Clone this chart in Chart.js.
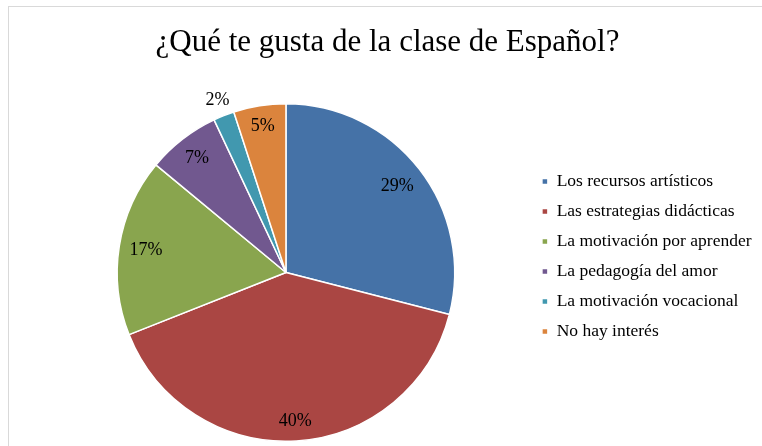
<!DOCTYPE html>
<html>
<head>
<meta charset="utf-8">
<script src="https://cdn.jsdelivr.net/npm/chart.js@4.4.1/dist/chart.umd.min.js"></script>
<style>
    html, body { margin: 0; padding: 0; background: #fff; overflow: hidden; }
    #frame {
        position: absolute; left: 8px; top: 6px;
        width: 800px; height: 500px;
        border: 1px solid #d9d9d9;
    }
    #wrap { position: absolute; left: 0; top: 0; width: 757px; height: 439px; }
</style>
</head>
<body>
<div id="frame"><div id="wrap"><canvas id="pie"></canvas></div></div>
<script>
const categories = [
    'Los recursos artísticos',
    'Las estrategias didácticas',
    'La motivación por aprender',
    'La pedagogía del amor',
    'La motivación vocacional',
    'No hay interés'
];
const percentages = [29, 40, 17, 7, 2, 5];
const sliceColors = ['#4572A7', '#AA4643', '#89A54E', '#71588F', '#4198AF', '#DB843D'];

// where each % label sits, as a share of the radius (Excel "best fit")
const labelRadius = [0.835, 0.885, 0.84, 0.86, 1.10, 0.88];

const serif = '"Liberation Serif", "Times New Roman", serif';

const percentLabels = {
    id: 'percentLabels',
    afterDatasetsDraw(chart) {
        const ctx = chart.ctx;
        const meta = chart.getDatasetMeta(0);
        ctx.save();
        ctx.font = '18px ' + serif;
        ctx.fillStyle = '#000';
        ctx.textAlign = 'center';
        ctx.textBaseline = 'middle';
        meta.data.forEach(function (arc, i) {
            const p = arc.getProps(['x', 'y', 'startAngle', 'endAngle', 'outerRadius'], true);
            const mid = (p.startAngle + p.endAngle) / 2;
            const r = p.outerRadius * labelRadius[i];
            ctx.fillText(percentages[i] + '%', p.x + Math.cos(mid) * r, p.y + Math.sin(mid) * r);
        });
        ctx.restore();
    }
};

// centre the title over the whole chart, not just pie + legend
const wideTitle = {
    id: 'wideTitle',
    afterLayout(chart) {
        chart.titleBlock.left = 0;
        chart.titleBlock.right = chart.width;
        chart.titleBlock.width = chart.width;
    }
};

new Chart(document.getElementById('pie').getContext('2d'), {
    type: 'pie',
    data: {
        labels: categories,
        datasets: [{
            data: percentages,
            backgroundColor: sliceColors,
            borderColor: '#ffffff',
            borderWidth: 1.5
        }]
    },
    options: {
        responsive: true,
        maintainAspectRatio: false,
        animation: false,
        layout: { padding: { left: 33.5, right: 4.5, top: 0, bottom: 4 } },
        plugins: {
            title: {
                display: true,
                text: '¿Qué te gusta de la clase de Español?',
                color: '#000',
                font: { family: serif, size: 31, weight: 'normal' },
                padding: { top: 17, bottom: 41.8 }
            },
            legend: {
                position: 'right',
                title: { display: true, text: '', padding: 24.8 },
                labels: {
                    color: '#000',
                    boxWidth: 6,
                    boxHeight: 6,
                    padding: 12.5,
                    font: { family: serif, size: 17.5 }
                }
            },
            tooltip: { enabled: false }
        }
    },
    plugins: [percentLabels, wideTitle]
});
</script>
</body>
</html>
